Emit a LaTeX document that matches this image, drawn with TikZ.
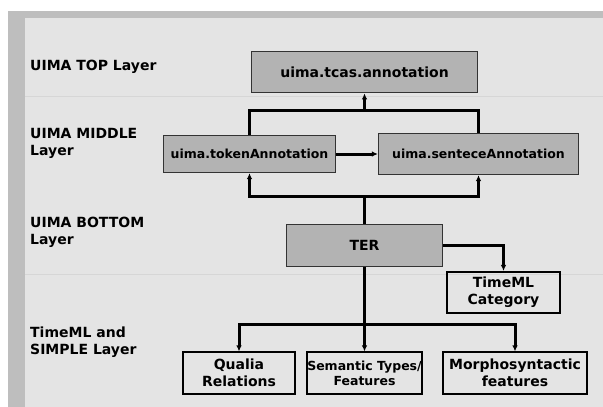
\documentclass[tikz,border=0pt]{standalone}
\usepackage{fontspec}
\setmainfont{DejaVu Sans}
\usetikzlibrary{arrows.meta}
\definecolor{framegray}{HTML}{BEBEBE}
\definecolor{panelgray}{HTML}{E4E4E4}
\definecolor{boxgray}{HTML}{B3B3B3}
\definecolor{rulegray}{HTML}{D6D6D6}
\newcommand{\bigfont}{\bfseries\fontsize{14}{17}\selectfont}
\newcommand{\smallfont}{\bfseries\fontsize{12.5}{15}\selectfont}
\tikzset{
  uimabox/.style={draw=black!80, line width=1.2pt, fill=boxgray, inner sep=0pt, font=\bigfont},
  simplebox/.style={draw=black, line width=1.6pt, inner sep=0pt, align=center, font=\bigfont},
  layer/.style={anchor=west, align=left, inner sep=0pt, font=\bigfont},
  link/.style={line width=3pt},
  linkto/.style={line width=3pt, -{Latex[length=6pt,width=5.5pt]}},
}
\begin{document}
\begin{tikzpicture}[x=1pt, y=-1pt]
  \useasboundingbox (0,0) rectangle (603,407);
  % Frame and panel
  \fill[white] (0,0) rectangle (603,407);
  \fill[framegray] (8,11) rectangle (603,407);
  \fill[panelgray] (25,18) rectangle (603,407);
  \draw[rulegray, line width=0.8pt] (25,96.7) -- (603,96.7);
  \draw[rulegray, line width=0.8pt] (25,274.3) -- (603,274.3);
  % Layer names
  \node[layer] (ltop) at (30,66.7) {UIMA TOP Layer};
  \node[layer] (lmid) at (30,143.7) {UIMA MIDDLE\\Layer};
  \node[layer] (lbot) at (30,232) {UIMA BOTTOM\\Layer};
  \node[layer] (lsim) at (30,342.5) {TimeML and\\SIMPLE Layer};
  % UIMA boxes
  \node[uimabox, minimum width=226pt, minimum height=41.5pt] (top) at (364.5,72) {uima.tcas.annotation};
  \node[uimabox, minimum width=172pt, minimum height=37pt, font=\smallfont] (token) at (249.5,154) {uima.tokenAnnotation};
  \node[uimabox, minimum width=200pt, minimum height=41pt, font=\smallfont] (sentence) at (478.5,154) {uima.senteceAnnotation};
  \node[uimabox, minimum width=156pt, minimum height=42pt] (ter) at (364.5,245.5) {TER};
  % TimeML and SIMPLE boxes
  \node[simplebox, minimum width=113pt, minimum height=41.5pt] (timeml) at (503.5,292.5) {TimeML\\Category};
  \node[simplebox, minimum width=112.5pt, minimum height=41.5pt] (qualia) at (239,373) {Qualia\\Relations};
  \node[simplebox, minimum width=112.5pt, minimum height=41.5pt, font=\smallfont] (semantic) at (364.5,373) {Semantic Types/\\Features};
  \node[simplebox, minimum width=144.5pt, minimum height=41.5pt] (morpho) at (515,373) {Morphosyntactic\\features};
  % Upper links
  \coordinate (tb) at (364.5,110);
  \draw[link] (token.north) |- (tb) -| (sentence.north);
  \draw[linkto] (tb) -- (top.south);
  \draw[linkto] (token.east) -- (sentence.west);
  % TER links
  \coordinate (bb) at (364.5,196);
  \draw[link] (ter.north) -- (bb);
  \draw[linkto] (bb) -| (token.south);
  \draw[linkto] (bb) -| (sentence.south);
  \draw[linkto] (ter.east) -| (timeml.north);
  % Lower links
  \coordinate (lb) at (364.5,324);
  \draw[link] (ter.south) -- (lb);
  \draw[linkto] (lb) -| (qualia.north);
  \draw[linkto] (lb) -- (semantic.north);
  \draw[linkto] (lb) -| (morpho.north);
\end{tikzpicture}
\end{document}
